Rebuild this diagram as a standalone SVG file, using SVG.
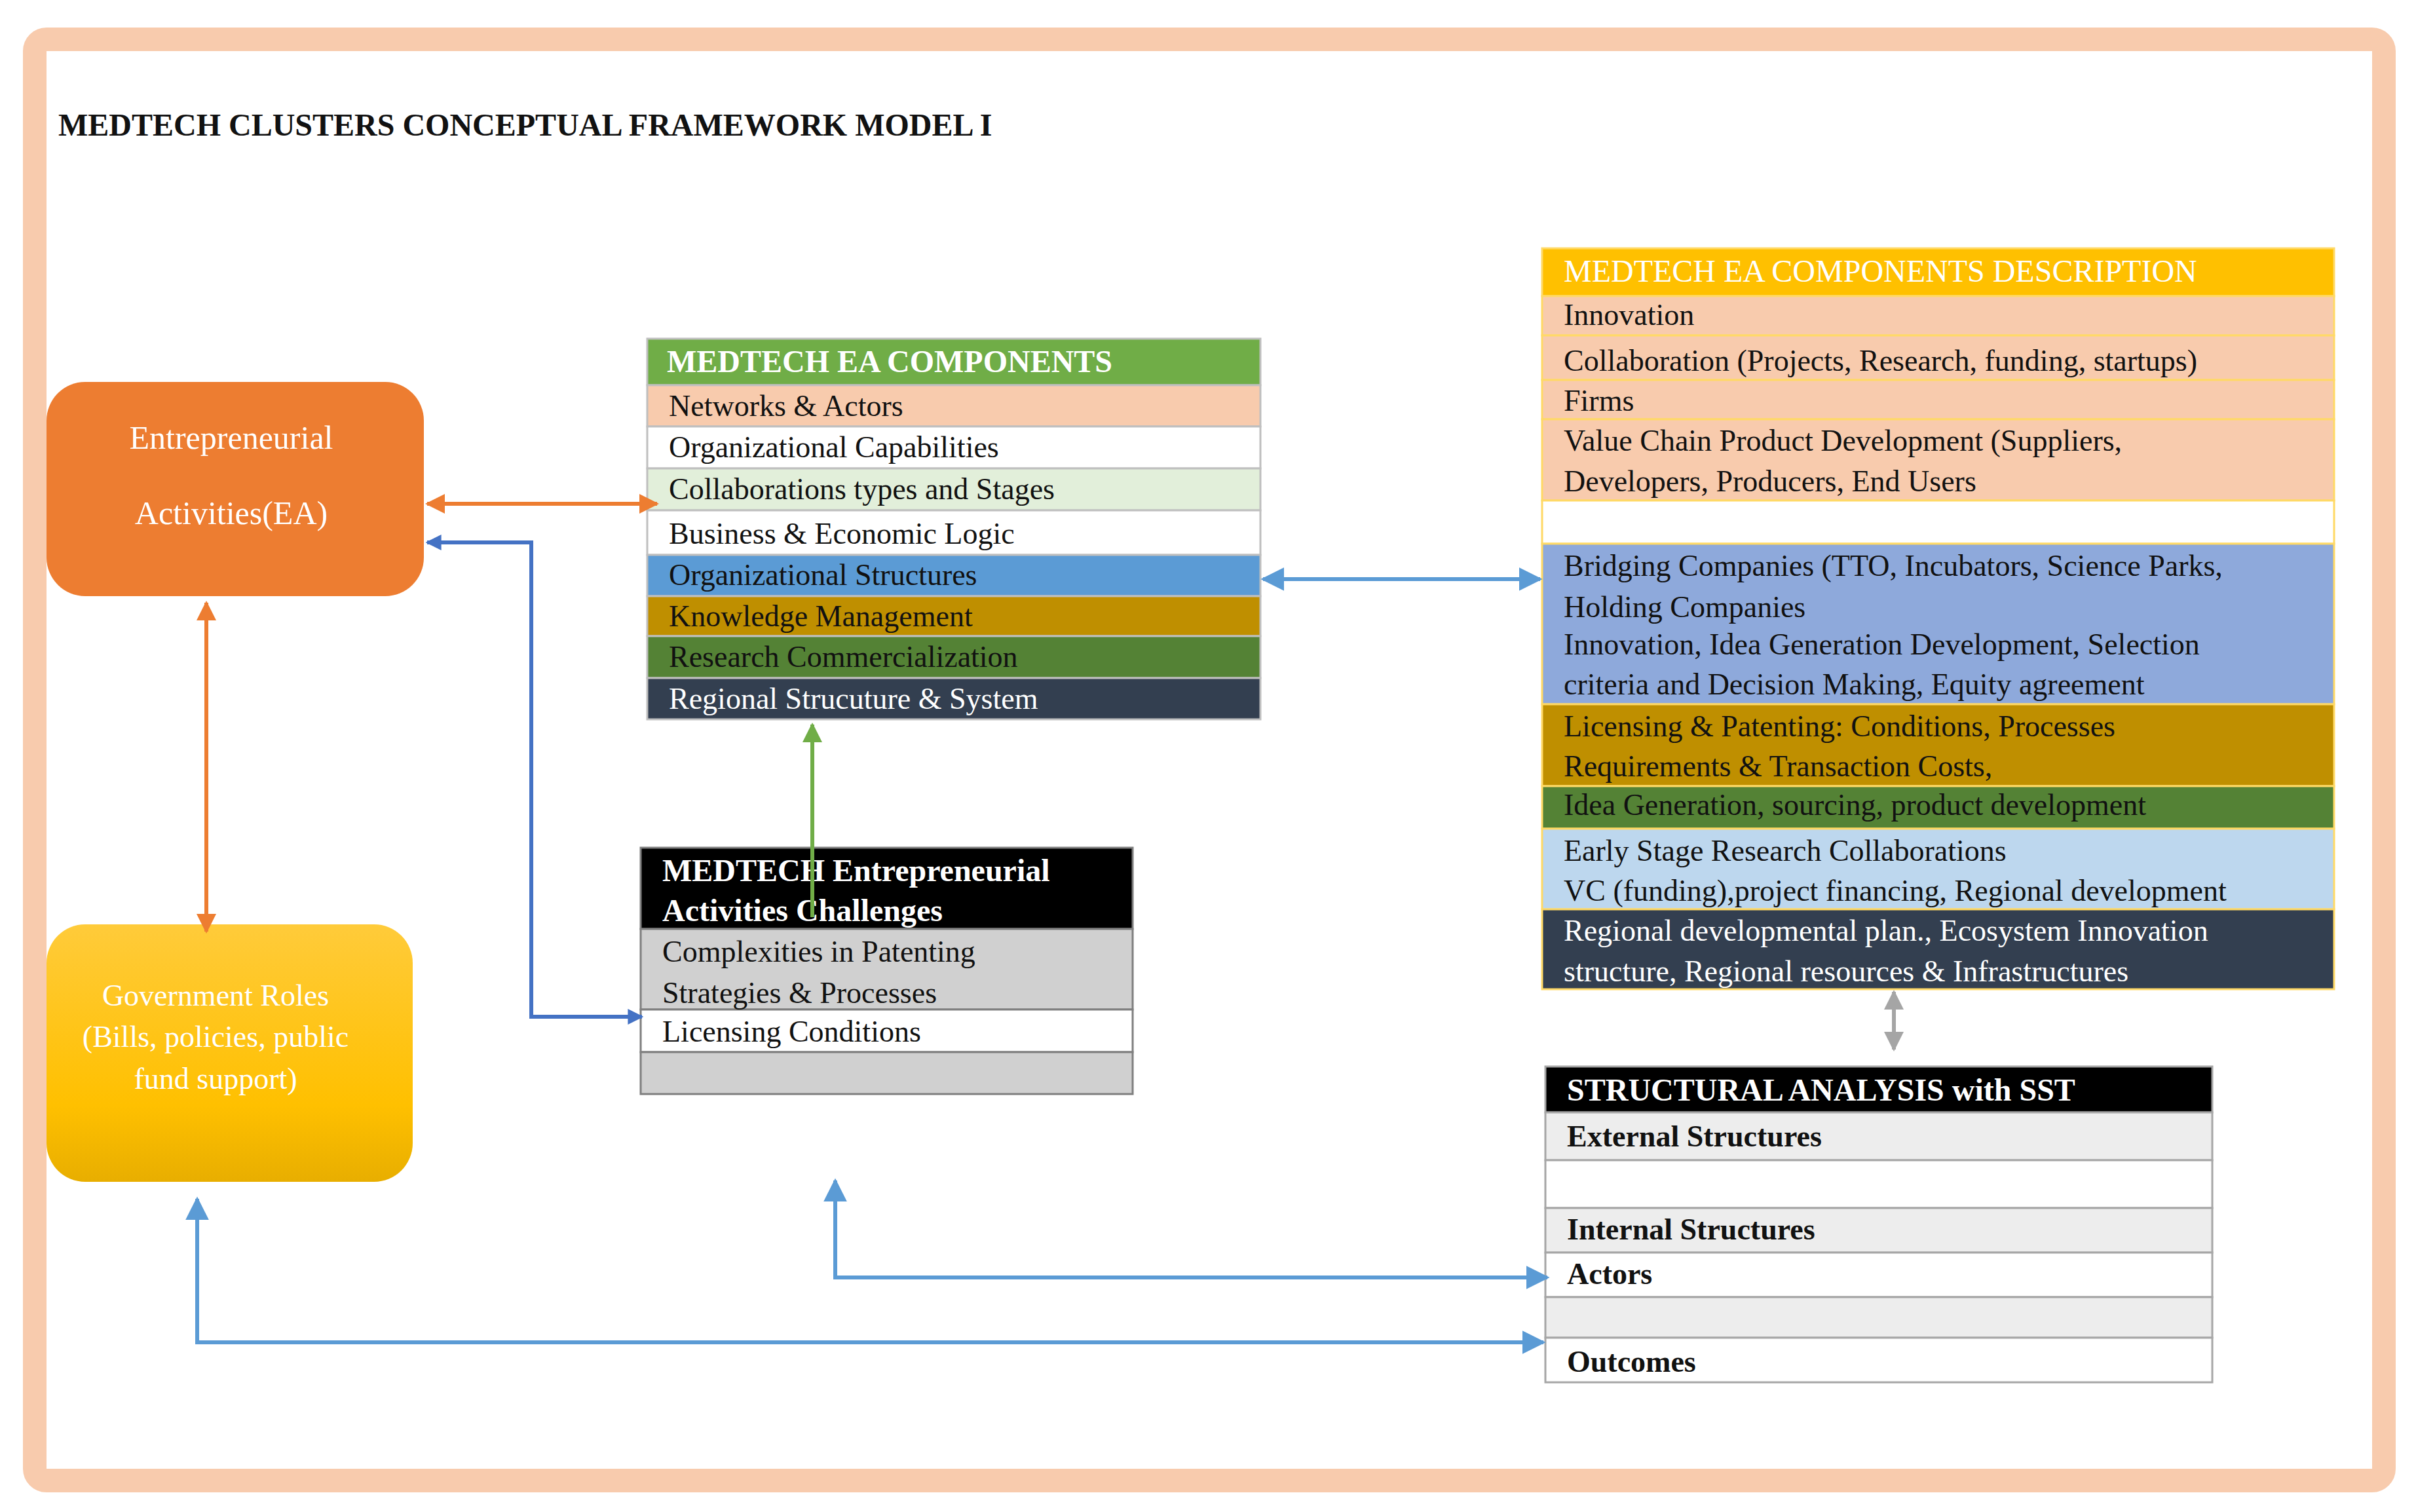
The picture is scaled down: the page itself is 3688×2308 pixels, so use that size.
<svg xmlns="http://www.w3.org/2000/svg" width="3688" height="2308" viewBox="0 0 3688 2308">
<style>
text{font-family:"Liberation Serif","Times New Roman",serif;font-size:46px;fill:#111}
.w{fill:#fff}.b{font-weight:bold}.h{font-weight:bold;fill:#fff;font-size:48px}
.ln{fill:none;stroke-width:6}
</style>
<defs>
<marker id="ao" viewBox="0 0 10 10" refX="9" refY="5" markerWidth="5" markerHeight="5" orient="auto-start-reverse"><path d="M0,0L10,5L0,10z" fill="#ED7D31"/></marker>
<marker id="ab" viewBox="0 0 10 10" refX="9" refY="5" markerWidth="4" markerHeight="4" orient="auto-start-reverse"><path d="M0,0L10,5L0,10z" fill="#4472C4"/></marker>
<marker id="al" viewBox="0 0 10 10" refX="9" refY="5" markerWidth="6" markerHeight="6" orient="auto-start-reverse"><path d="M0,0L10,5L0,10z" fill="#5B9BD5"/></marker>
<marker id="ag" viewBox="0 0 10 10" refX="9" refY="5" markerWidth="5" markerHeight="5" orient="auto-start-reverse"><path d="M0,0L10,5L0,10z" fill="#70AD47"/></marker>
<marker id="ay" viewBox="0 0 10 10" refX="9" refY="5" markerWidth="5" markerHeight="5" orient="auto-start-reverse"><path d="M0,0L10,5L0,10z" fill="#A5A5A5"/></marker>
<linearGradient id="gy" x1="0" y1="0" x2="0" y2="1"><stop offset="0" stop-color="#FFCB3A"/><stop offset="0.7" stop-color="#FFC000"/><stop offset="1" stop-color="#E8AE00"/></linearGradient>
</defs>
<rect width="3688" height="2308" fill="#fff"/>
<rect x="53" y="60" width="3586" height="2200" rx="18" fill="#fff" stroke="#F8CBAD" stroke-width="36"/>
<text x="89" y="207" class="b" style="font-size:48px">MEDTECH CLUSTERS CONCEPTUAL FRAMEWORK MODEL I</text>

<g id="ea"><rect x="71" y="583" width="576" height="327" rx="59" fill="#ED7D31"/>
<text x="353" y="685" class="w" text-anchor="middle" style="font-size:50px">Entrepreneurial</text>
<text x="353" y="800" class="w" text-anchor="middle" style="font-size:50px">Activities(EA)</text></g>

<g id="gov"><rect x="71" y="1411" width="559" height="393" rx="59" fill="url(#gy)"/>
<text x="329" y="1535" class="w" text-anchor="middle">Government Roles</text>
<text x="329" y="1598" class="w" text-anchor="middle">(Bills, policies, public</text>
<text x="329" y="1662" class="w" text-anchor="middle">fund support)</text></g>

<g id="components" stroke="#BFBFBF" stroke-width="3">
<rect x="988" y="517" width="936" height="71" fill="#70AD47"/>
<rect x="988" y="588" width="936" height="63" fill="#F8CBAD"/>
<rect x="988" y="651" width="936" height="64" fill="#fff"/>
<rect x="988" y="715" width="936" height="64" fill="#E2EFDA"/>
<rect x="988" y="779" width="936" height="68" fill="#fff"/>
<rect x="988" y="847" width="936" height="63" fill="#5B9BD5"/>
<rect x="988" y="910" width="936" height="61" fill="#BF8F00"/>
<rect x="988" y="971" width="936" height="64" fill="#548235"/>
<rect x="988" y="1035" width="936" height="63" fill="#333F50"/>
<g stroke="none">
<text x="1018" y="568" class="h">MEDTECH EA COMPONENTS</text>
<text x="1021" y="635">Networks &amp; Actors</text>
<text x="1021" y="698">Organizational Capabilities</text>
<text x="1021" y="762">Collaborations types and Stages</text>
<text x="1021" y="830">Business &amp; Economic Logic</text>
<text x="1021" y="893">Organizational Structures</text>
<text x="1021" y="956">Knowledge Management</text>
<text x="1021" y="1018" fill="#E2EFDA">Research Commercialization</text>
<text x="1021" y="1082" class="w">Regional Strucuture &amp; System</text></g></g>

<g id="challenges" stroke="#7F7F7F" stroke-width="3">
<rect x="978" y="1294" width="751" height="124" fill="#000"/>
<rect x="978" y="1418" width="751" height="123" fill="#D0D0D0"/>
<rect x="978" y="1541" width="751" height="65" fill="#fff"/>
<rect x="978" y="1606" width="751" height="64" fill="#D0D0D0"/>
<g stroke="none">
<text x="1011" y="1345" class="h">MEDTECH Entrepreneurial</text>
<text x="1011" y="1406" class="h">Activities Challenges</text>
<text x="1011" y="1468">Complexities in Patenting</text>
<text x="1011" y="1531">Strategies &amp; Processes</text>
<text x="1011" y="1590">Licensing Conditions</text></g></g>

<g id="description" stroke="#FFD966" stroke-width="3">
<rect x="2354" y="379" width="1209" height="73" fill="#FFC000"/>
<rect x="2354" y="452" width="1209" height="60" fill="#F8CBAD"/>
<rect x="2354" y="512" width="1209" height="68" fill="#F8CBAD"/>
<rect x="2354" y="580" width="1209" height="60" fill="#F8CBAD"/>
<rect x="2354" y="640" width="1209" height="124" fill="#F8CBAD"/>
<rect x="2354" y="764" width="1209" height="66" fill="#fff"/>
<rect x="2354" y="830" width="1209" height="245" fill="#8EA9DB"/>
<rect x="2354" y="1075" width="1209" height="125" fill="#BF8F00"/>
<rect x="2354" y="1200" width="1209" height="65" fill="#548235"/>
<rect x="2354" y="1265" width="1209" height="123" fill="#BDD7EE"/>
<rect x="2354" y="1388" width="1209" height="122" fill="#333F50"/>
<g stroke="none">
<text x="2387" y="430" class="w" style="font-size:48px">MEDTECH EA COMPONENTS DESCRIPTION</text>
<text x="2387" y="496">Innovation</text>
<text x="2387" y="566">Collaboration (Projects, Research, funding, startups)</text>
<text x="2387" y="627">Firms</text>
<text x="2387" y="688">Value Chain Product Development (Suppliers,</text>
<text x="2387" y="750">Developers, Producers, End Users</text>
<text x="2387" y="879">Bridging Companies (TTO, Incubators, Science Parks,</text>
<text x="2387" y="942">Holding Companies</text>
<text x="2387" y="999">Innovation, Idea Generation Development, Selection</text>
<text x="2387" y="1060">criteria and Decision Making, Equity agreement</text>
<text x="2387" y="1124">Licensing &amp; Patenting: Conditions, Processes</text>
<text x="2387" y="1185">Requirements &amp; Transaction Costs,</text>
<text x="2387" y="1244">Idea Generation, sourcing, product development</text>
<text x="2387" y="1314">Early Stage Research Collaborations</text>
<text x="2387" y="1375">VC (funding),project financing, Regional development</text>
<text x="2387" y="1436" class="w">Regional developmental plan., Ecosystem Innovation</text>
<text x="2387" y="1498" class="w">structure, Regional resources &amp; Infrastructures</text></g></g>

<g id="structural" stroke="#A6A6A6" stroke-width="3">
<rect x="2359" y="1628" width="1018" height="70" fill="#000"/>
<rect x="2359" y="1698" width="1018" height="73" fill="#EDEDED"/>
<rect x="2359" y="1771" width="1018" height="73" fill="#fff"/>
<rect x="2359" y="1844" width="1018" height="68" fill="#EDEDED"/>
<rect x="2359" y="1912" width="1018" height="68" fill="#fff"/>
<rect x="2359" y="1980" width="1018" height="62" fill="#EDEDED"/>
<rect x="2359" y="2042" width="1018" height="68" fill="#fff"/>
<g stroke="none">
<text x="2392" y="1680" class="h">STRUCTURAL ANALYSIS with SST</text>
<text x="2392" y="1750" class="b">External Structures</text>
<text x="2392" y="1892" class="b">Internal Structures</text>
<text x="2392" y="1960" class="b">Actors</text>
<text x="2392" y="2094" class="b">Outcomes</text></g></g>

<g id="connectors">
<path class="ln" d="M652,769H1003" stroke="#ED7D31" marker-start="url(#ao)" marker-end="url(#ao)"/>
<path class="ln" d="M315,920V1422" stroke="#ED7D31" marker-start="url(#ao)" marker-end="url(#ao)"/>
<path class="ln" d="M652,828H811V1552H980" stroke="#4472C4" stroke-width="8" marker-start="url(#ab)" marker-end="url(#ab)"/>
<path class="ln" d="M1240,1400V1106" stroke="#70AD47" marker-end="url(#ag)"/>
<path class="ln" d="M1928,884H2351" stroke="#5B9BD5" stroke-width="4" marker-start="url(#al)" marker-end="url(#al)"/>
<path class="ln" d="M2891,1514V1602" stroke="#A5A5A5" stroke-width="5" marker-start="url(#ay)" marker-end="url(#ay)"/>
<path class="ln" d="M1275,1802V1950H2362" stroke="#5B9BD5" stroke-width="4" marker-start="url(#al)" marker-end="url(#al)"/>
<path class="ln" d="M301,1830V2049H2356" stroke="#5B9BD5" stroke-width="4" marker-start="url(#al)" marker-end="url(#al)"/>
</g>
</svg>
